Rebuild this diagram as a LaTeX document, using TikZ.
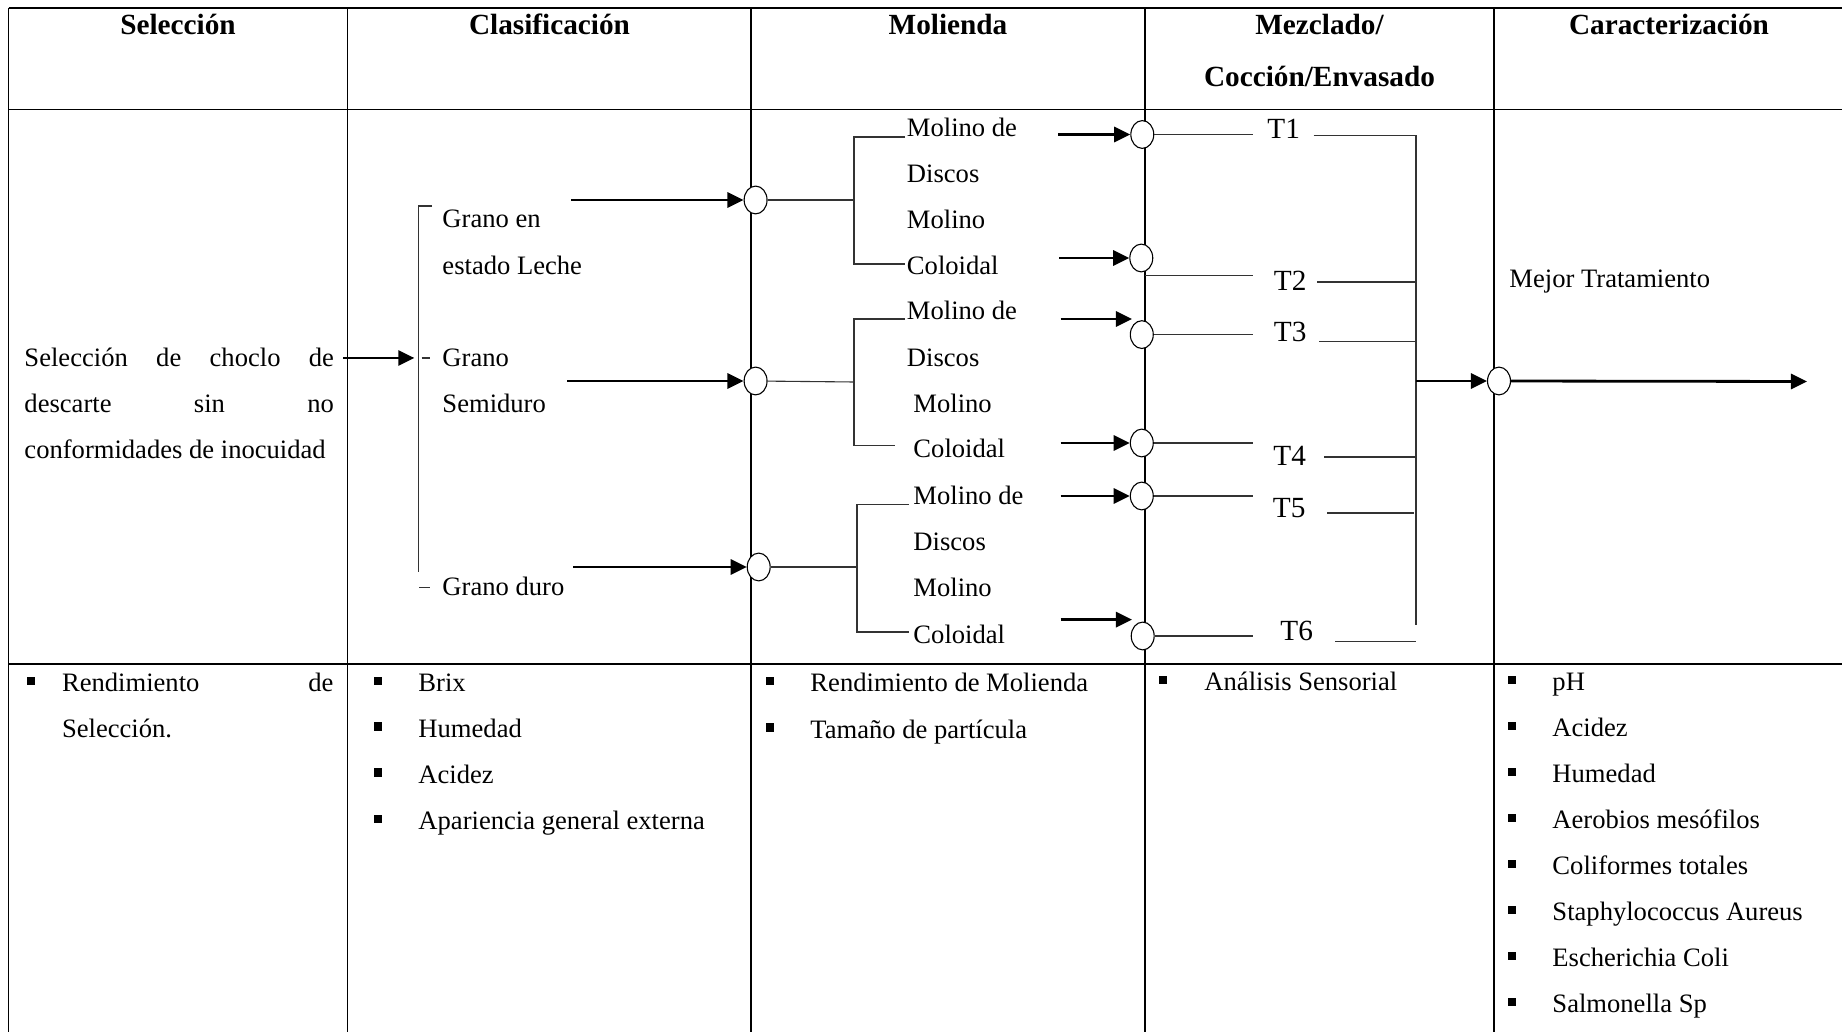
\documentclass[tikz,border=0pt]{standalone}
\usepackage{fontspec}
\setmainfont{Liberation Serif}
\usetikzlibrary{arrows.meta,shapes.geometric}
\begin{document}
\begin{tikzpicture}[x=0.41pt,y=-0.41pt,
  grid/.style={line width=0.55pt},
  thin link/.style={line width=0.45pt, draw=black!80},
  flow/.style={line width=1.15pt, -{Triangle[length=6.6pt,width=6.2pt]}},
  junction/.style={ellipse, draw, line width=0.45pt, fill=white,
    minimum width=9.4pt, minimum height=11.4pt, inner sep=0pt},
  head/.style={font=\fontsize{12}{14}\selectfont\bfseries, inner sep=0pt, anchor=base},
  txt/.style={font=\fontsize{10.9}{13}\selectfont, inner sep=0pt, anchor=base west},
  tlabel/.style={font=\fontsize{12}{14}\selectfont, inner sep=0pt, anchor=base west},
  bullet/.style={fill=black, minimum width=3.2pt, minimum height=3.3pt, inner sep=0pt}
]
\useasboundingbox (0,0) rectangle (1842,1032);

% ---- table grid ----
\draw[grid] (8.7,8) -- (1842,8);
\draw[grid] (8.7,109.5) -- (1842,109.5);
\draw[grid] (8.7,664) -- (1842,664);
\foreach \x in {8.7,347.5,751,1145,1494} \draw[grid] (\x,8) -- (\x,1032);

% ---- headers ----
\node[head] (hSel) at (178,35) {Selección};
\node[head] (hCla) at (549.5,35) {Clasificación};
\node[head] (hMol) at (948,35) {Molienda};
\node[head] (hMez) at (1319.5,35) {Mezclado/};
\node[head] (hCoc) at (1319.5,87) {Cocción/Envasado};
\node[head] (hCar) at (1669,35) {Caracterización};

% ---- junction circles ----
\node[junction] (g1) at (755.6,200) {};
\node[junction] (g2) at (755.6,381) {};
\node[junction] (g3) at (758.7,567) {};
\node[junction] (m1) at (1142.3,134.5) {};
\node[junction] (m2) at (1141.3,258) {};
\node[junction] (m3) at (1141.8,334.6) {};
\node[junction] (m4) at (1141.8,443) {};
\node[junction] (m5) at (1141.8,496) {};
\node[junction] (m6) at (1142.7,636) {};
\node[junction] (best) at (1499,381) {};

% ---- selection ----
\node[txt] (sel1) at (24,367) {\makebox[126.9pt][s]{Selección de choclo de}};
\node[txt] (sel2) at (24,413) {\makebox[126.9pt][s]{descarte sin no}};
\node[txt] (sel3) at (24,459) {conformidades de inocuidad};
\coordinate (selOut) at (343,358);
\coordinate (brkIn) at (414.4,358);
\draw[flow] (selOut) -- (brkIn);

% ---- classification ----
\coordinate (bTop) at (418.3,206);
\coordinate (bBot) at (418.3,572);
\coordinate (bTick) at (432,206);
\draw[thin link] (bTick) -- (bTop) -- (bBot);
\coordinate (d2a) at (421.7,358); \coordinate (d2b) at (430.4,358);
\coordinate (d3a) at (419.3,587.5); \coordinate (d3b) at (430.4,587.5);
\draw[thin link] (d2a) -- (d2b);
\draw[thin link] (d3a) -- (d3b);
\node[txt] (c1a) at (442,228) {Grano en};
\node[txt] (c1b) at (442,274.5) {estado Leche};
\node[txt] (c2a) at (442,366.5) {Grano};
\node[txt] (c2b) at (442,412.5) {Semiduro};
\node[txt] (c3) at (442,596) {Grano duro};
\coordinate (f1) at (571,200);
\coordinate (f2) at (567,381);
\coordinate (f3) at (573.4,567);
\draw[flow] (f1) -- (g1);
\draw[flow] (f2) -- (g2);
\draw[flow] (f3) -- (g3);

% ---- milling branches ----
\coordinate (k1) at (854,200);
\draw[thin link] (g1) -- (k1);
\draw[thin link] (905,137) -- (854,137) -- (854,264) -- (905,264);
\coordinate (k2) at (854,382);
\draw[thin link] (g2) -- (k2);
\draw[thin link] (905,319) -- (854,319) -- (854,445.7) -- (895,445.7);
\coordinate (k3) at (857,567);
\draw[thin link] (g3) -- (k3);
\draw[thin link] (908.7,504.6) -- (857,504.6) -- (857,632) -- (908.7,632);

\node[txt] at (906.5,136.5) {Molino de};
\node[txt] at (906.5,182.5) {Discos};
\node[txt] at (906.5,228.5) {Molino};
\node[txt] at (906.5,274.5) {Coloidal};
\node[txt] at (906.5,320) {Molino de};
\node[txt] at (906.5,366.5) {Discos};
\node[txt] at (913,413) {Molino};
\node[txt] at (913,457.5) {Coloidal};
\node[txt] at (913,504.5) {Molino de};
\node[txt] at (913,550.5) {Discos};
\node[txt] at (913,597) {Molino};
\node[txt] at (913,643.5) {Coloidal};

% ---- arrows into mixing ----
\coordinate (a1) at (1058.3,134.5);
\coordinate (a2) at (1059,258);
\coordinate (a3s) at (1060.5,319); \coordinate (a3e) at (1132,319);
\coordinate (a4) at (1060.5,443);
\coordinate (a5) at (1060.5,496);
\coordinate (a6s) at (1060.5,619.6); \coordinate (a6e) at (1132,619.6);
\draw[flow] (a1) -- (m1);
\draw[flow] (a2) -- (m2);
\draw[flow] (a3s) -- (a3e);
\draw[flow] (a4) -- (m4);
\draw[flow] (a5) -- (m5);
\draw[flow] (a6s) -- (a6e);

% ---- treatments ----
\coordinate (t1in) at (1252.7,134.5);
\coordinate (m2tap) at (1145.3,275.7); \coordinate (t2in) at (1252.7,275.7);
\coordinate (t3in) at (1252.5,334.6);
\coordinate (t4in) at (1252.5,443);
\coordinate (t5in) at (1252.5,496);
\coordinate (t6in) at (1253,636);
\draw[thin link] (m1) -- (t1in);
\draw[thin link] (m2tap) -- (t2in);
\draw[thin link] (m3) -- (t3in);
\draw[thin link] (m4) -- (t4in);
\draw[thin link] (m5) -- (t5in);
\draw[thin link] (m6) -- (t6in);

\node[tlabel] (T1) at (1267,138.5) {T1};
\node[tlabel] (T2) at (1273.5,290.5) {T2};
\node[tlabel] (T3) at (1273.5,341.5) {T3};
\node[tlabel] (T4) at (1273,465.5) {T4};
\node[tlabel] (T5) at (1272.5,517.5) {T5};
\node[tlabel] (T6) at (1280,641) {T6};

\coordinate (bus1) at (1416,135.5);
\coordinate (busEnd) at (1416,625);
\draw[thin link] (1313.5,135.5) -- (bus1) -- (busEnd);
\draw[thin link] (1317,282) -- (1416,282);
\draw[thin link] (1319,341.8) -- (1416,341.8);
\draw[thin link] (1324,457) -- (1416,457);
\draw[thin link] (1327,513) -- (1414,513);
\draw[thin link] (1335,641.8) -- (1416,641.8);

\coordinate (collect) at (1416,381);
\draw[flow] (collect) -- (best);
\coordinate (final) at (1807,381.5);
\draw[flow] (best) -- (final);
\node[txt] (mejor) at (1509,288) {Mejor Tratamiento};

% ---- measured parameters ----
\node[bullet] at (31,681) {};
\node[txt] at (61.6,692) {\makebox[111.3pt][s]{Rendimiento de}};
\node[txt] at (61.6,738) {Selección.};

\foreach \yb/\t in {692/Brix,737.5/Humedad,783.5/Acidez,830/Apariencia general externa}{
  \node[bullet] at (378,\yb-11) {};
  \node[txt] at (418,\yb) {\t};
}
\foreach \yb/\t in {692/Rendimiento de Molienda,738.5/Tamaño de partícula}{
  \node[bullet] at (770,\yb-11) {};
  \node[txt] at (810,\yb) {\t};
}
\node[bullet] at (1163,680) {};
\node[txt] at (1204,691) {Análisis Sensorial};
\foreach \yb/\t in {691/pH,737/Acidez,783/Humedad,829/Aerobios mesófilos,875/Coliformes totales,921/Staphylococcus Aureus,967/Escherichia Coli,1013/Salmonella Sp}{
  \node[bullet] at (1512,\yb-11) {};
  \node[txt] at (1552,\yb) {\t};
}
\end{tikzpicture}
\end{document}
